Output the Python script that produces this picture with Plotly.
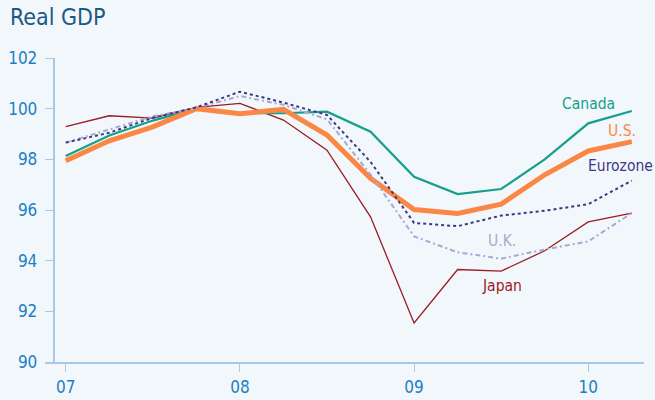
import plotly.graph_objects as go

quarters = ["2007Q1", "2007Q2", "2007Q3", "2007Q4",
            "2008Q1", "2008Q2", "2008Q3", "2008Q4",
            "2009Q1", "2009Q2", "2009Q3", "2009Q4",
            "2010Q1", "2010Q2"]
canada = [98.13, 98.94, 99.53, 100.0, 99.82, 99.82, 99.88, 99.09, 97.31, 96.63, 96.83, 98.00, 99.42, 99.91]
us = [97.94, 98.73, 99.28, 100.0, 99.80, 99.97, 98.96, 97.25, 96.02, 95.86, 96.23, 97.39, 98.33, 98.70]
eurozone = [98.66, 99.05, 99.64, 100.05, 100.67, 100.24, 99.75, 97.90, 95.49, 95.36, 95.78, 95.97, 96.23, 97.16]
uk = [98.66, 99.17, 99.70, 100.02, 100.50, 100.15, 99.58, 97.40, 94.96, 94.33, 94.08, 94.44, 94.76, 95.88]
japan = [99.29, 99.72, 99.63, 100.05, 100.21, 99.55, 98.36, 95.73, 91.54, 93.65, 93.59, 94.39, 95.53, 95.88]

year_ticks = [2007, 2008, 2009, 2010]
year_labels = ["07", "08", "09", "10"]
y_ticks = [90, 92, 94, 96, 98, 100, 102]

x = [int(q[:4]) + (int(q[5]) - 1) / 4 for q in quarters]

FONT = "DejaVu Sans Condensed, DejaVu Sans, sans-serif"
BG = "#f2f7fc"
AX = "#a9c8e6"
TICKC = "#1b80c4"

fig = go.Figure()
fig.add_trace(go.Scatter(x=x, y=japan, mode="lines", line=dict(color="#9b1c24", width=1.3)))
fig.add_trace(go.Scatter(x=x, y=canada, mode="lines", line=dict(color="#15a08b", width=2.2)))
fig.add_trace(go.Scatter(x=x, y=us, mode="lines", line=dict(color="#fb8744", width=5)))
fig.add_trace(go.Scatter(x=x, y=uk, mode="lines", line=dict(color="#a8a8d2", width=2, dash="5px,3px,2px,3px")))
fig.add_trace(go.Scatter(x=x, y=eurozone, mode="lines", line=dict(color="#3c3886", width=2, dash="dot")))

labels = [
    ("Canada", 2010.004, 100.19, "#15a08b"),
    ("U.S.", 2010.193, 99.10, "#fb8744"),
    ("Eurozone", 2010.187, 97.72, "#3c3886"),
    ("U.K.", 2009.502, 94.77, "#a8a8d2"),
    ("Japan", 2009.507, 92.99, "#9b1c24"),
]
for t, lx, ly, c in labels:
    fig.add_annotation(x=lx, y=ly, text=t, showarrow=False, xanchor="center", yanchor="middle",
                       font=dict(family=FONT, size=15.5, color=c))

fig.add_annotation(xref="paper", yref="paper", x=-0.062, y=1.0, yshift=56, text="Real GDP",
                   showarrow=False, xanchor="left", yanchor="top",
                   font=dict(family=FONT, size=23, color="#1d5a82"))

fig.update_layout(
    width=655, height=400,
    margin=dict(l=45, r=11, t=58, b=38),
    paper_bgcolor=BG, plot_bgcolor=BG,
    showlegend=False,
    xaxis=dict(range=[2006.881, 2010.320], tickvals=year_ticks, ticktext=year_labels,
               showgrid=False, zeroline=False, showline=True, linecolor=AX, linewidth=1.5,
               ticks="outside", ticklen=8, tickcolor=AX, tickwidth=1, automargin=False,
               tickfont=dict(family=FONT, size=17, color=TICKC), ticklabelstandoff=1),
    yaxis=dict(range=[90, 102], tickvals=y_ticks, anchor="free", position=0.0142,
               showgrid=False, zeroline=False, showline=True, linecolor=AX, linewidth=1.5,
               ticks="outside", ticklen=8, tickcolor=AX, tickwidth=1, automargin=False,
               tickfont=dict(family=FONT, size=17, color=TICKC), ticklabelstandoff=4),
)

fig.write_html("out.html")
